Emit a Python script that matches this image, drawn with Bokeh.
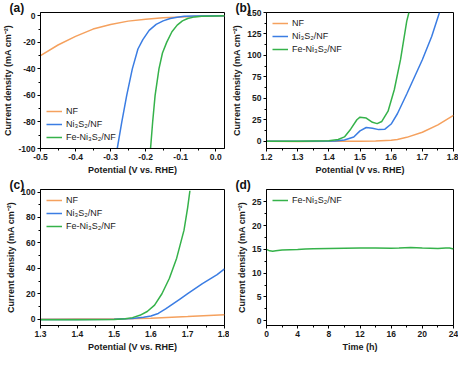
from bokeh.plotting import figure
from bokeh.layouts import gridplot
from bokeh.models import FixedTicker, Legend, LegendItem, Title, Range1d
from bokeh.embed import file_html
from bokeh.resources import INLINE

# ---------------- data ----------------
# (a) HER LSV
A_NF_X = [-0.5, -0.45, -0.4, -0.35, -0.3, -0.25, -0.2, -0.15, -0.1, -0.05, 0.0, 0.025]
A_NF_Y = [-30, -22, -15.5, -10, -6.5, -4, -2.5, -1.5, -0.8, -0.4, -0.2, -0.1]
A_NI_X = [-0.281, -0.268, -0.254, -0.238, -0.222, -0.208, -0.19, -0.17, -0.15, -0.13, -0.11, -0.09, -0.06, 0.025]
A_NI_Y = [-100, -80, -60, -40, -25, -18, -11, -6.5, -3.8, -2, -1, -0.4, -0.1, 0]
A_FE_X = [-0.186, -0.18, -0.173, -0.162, -0.152, -0.14, -0.125, -0.11, -0.095, -0.08, -0.06, -0.04, 0.0, 0.025]
A_FE_Y = [-100, -80, -60, -40, -28, -20, -12, -7, -3.8, -2, -0.8, -0.3, -0.05, 0]
A_XTICKS = [-0.5, -0.4, -0.3, -0.2, -0.1, 0.0]
A_YTICKS = [-100, -80, -60, -40, -20, 0]

# (b) OER LSV
B_NF_X = [1.2, 1.3, 1.4, 1.5, 1.55, 1.6, 1.62, 1.65, 1.7, 1.75, 1.8]
B_NF_Y = [0, -0.2, -0.1, 0, 0.3, 1.2, 2, 4.5, 10.5, 19, 30]
B_NI_X = [1.2, 1.3, 1.42, 1.45, 1.48, 1.50, 1.52, 1.54, 1.56, 1.58, 1.60, 1.62, 1.65, 1.70, 1.73, 1.755]
B_NI_Y = [0, 0, 0.3, 1.5, 5, 12, 16, 15, 13.5, 14, 20, 32, 55, 95, 122, 150]
B_FE_X = [1.2, 1.3, 1.40, 1.43, 1.45, 1.47, 1.49, 1.50, 1.52, 1.54, 1.555, 1.57, 1.59, 1.61, 1.63, 1.65, 1.657]
B_FE_Y = [0, 0, 0.5, 2, 5, 14, 25, 28, 27, 22, 20.5, 23, 35, 60, 95, 140, 150]
B_XTICKS = [1.2, 1.3, 1.4, 1.5, 1.6, 1.7, 1.8]
B_YTICKS = [0, 25, 50, 75, 100, 125, 150]

# (c) OER LSV
C_NF_X = [1.3, 1.4, 1.5, 1.6, 1.7, 1.8]
C_NF_Y = [0, 0.1, 0.2, 0.8, 2, 3.5]
C_NI_X = [1.3, 1.4, 1.5, 1.55, 1.58, 1.6, 1.62, 1.64, 1.66, 1.68, 1.70, 1.72, 1.74, 1.76, 1.78, 1.80]
C_NI_Y = [-0.3, -0.3, 0, 0.5, 1.5, 2.5, 4.5, 8, 12, 16, 20, 24, 28, 31.5, 35, 39.5]
C_FE_X = [1.3, 1.4, 1.5, 1.53, 1.55, 1.57, 1.59, 1.61, 1.63, 1.65, 1.67, 1.69, 1.70, 1.706]
C_FE_Y = [-0.5, -0.5, -0.3, 0.3, 1.2, 3, 6, 11, 20, 32, 48, 70, 88, 101]
C_XTICKS = [1.3, 1.4, 1.5, 1.6, 1.7, 1.8]
C_YTICKS = [0, 20, 40, 60, 80, 100]

# (d) stability
D_T = [0, 0.4, 0.8, 1.2, 2, 3, 4, 5, 6, 8, 10, 12, 14, 16, 17, 18.5, 20, 22, 23, 23.5, 24]
D_J = [15.0, 14.7, 14.6, 14.7, 14.9, 14.95, 15.0, 15.1, 15.15, 15.2, 15.25, 15.3, 15.3, 15.25, 15.3, 15.4, 15.3, 15.2, 15.3, 15.3, 15.1]
D_XTICKS = [0, 4, 8, 12, 16, 20, 24]
D_YTICKS = [0, 5, 10, 15, 20, 25]

NAMES = ["NF", "Ni\u2083S\u2082/NF", "Fe-Ni\u2083S\u2082/NF"]
C_OR, C_BL, C_GR = "#F5A15E", "#3B7DE3", "#35B24A"

FONT = "Liberation Sans"
YLAB = "Current density (mA cm\u207B\u00B2)"
XLAB = "Potential (V vs. RHE)"


def fmt(ticks, dec):
    return {t: (f"{t:.{dec}f}") for t in ticks}


def minors(ticks, n_minor=1):
    out = []
    for a, b in zip(ticks[:-1], ticks[1:]):
        for k in range(1, n_minor + 1):
            out.append(a + (b - a) * k / (n_minor + 1))
    return out


def make(xr, yr, xt, yt, xdec, ydec, xlabel, tag, width, height, bl, br, bt, bb):
    p = figure(width=width, height=height, x_range=Range1d(*xr), y_range=Range1d(*yr),
               output_backend="svg", toolbar_location=None,
               min_border_left=bl, min_border_right=br, min_border_top=bt, min_border_bottom=bb)
    p.xgrid.visible = False
    p.ygrid.visible = False
    p.outline_line_color = "black"
    p.outline_line_width = 1
    p.background_fill_color = "white"
    p.border_fill_color = "white"
    for ax, ticks, dec in ((p.xaxis[0], xt, xdec), (p.yaxis[0], yt, ydec)):
        ax.ticker = FixedTicker(ticks=ticks, minor_ticks=minors(ticks))
        ax.major_label_overrides = fmt(ticks, dec)
        ax.major_tick_in = 0
        ax.major_tick_out = 3
        ax.minor_tick_in = 0
        ax.minor_tick_out = 2
        ax.axis_line_color = "black"
        ax.major_tick_line_color = "black"
        ax.minor_tick_line_color = "black"
        ax.major_label_text_font = FONT
        ax.major_label_text_font_style = "bold"
        ax.major_label_text_font_size = "8.5px"
        ax.major_label_text_color = "#1a1a1a"
        ax.major_label_standoff = 2
        ax.axis_label_text_font = FONT
        ax.axis_label_text_font_style = "bold"
        ax.axis_label_text_font_size = "9px"
        ax.axis_label_text_color = "#1a1a1a"
        ax.axis_label_standoff = 2
    p.xaxis.axis_label = xlabel
    p.yaxis.axis_label = YLAB
    p.title = Title(text=tag, align="left", offset=-31, standoff=-4,
                    text_font=FONT, text_font_style="bold", text_font_size="12px",
                    text_color="#111111", text_line_height=0.9)
    return p


def add_legend(p, items, loc):
    leg = Legend(items=items, location=loc, background_fill_alpha=0, border_line_alpha=0,
                 label_text_font=FONT, label_text_font_size="9px", label_text_color="#222222",
                 glyph_width=16, glyph_height=10, label_height=10, spacing=3, padding=2,
                 margin=4, label_standoff=4)
    p.add_layout(leg)


W, H = 229, 177

pa = make((-0.5, 0.025), (-100, 2.5), A_XTICKS, A_YTICKS, 1, 0, XLAB, "(a)", W, H, 30, 5, 0, 24)
ra = pa.line(A_NF_X, A_NF_Y, line_color=C_OR, line_width=1.5)
rb = pa.line(A_NI_X, A_NI_Y, line_color=C_BL, line_width=1.5)
rc = pa.line(A_FE_X, A_FE_Y, line_color=C_GR, line_width=1.5)
add_legend(pa, [LegendItem(label=NAMES[0], renderers=[ra]), LegendItem(label=NAMES[1], renderers=[rb]),
                LegendItem(label=NAMES[2], renderers=[rc])], "bottom_left")

pb = make((1.2, 1.8), (-8.5, 150), B_XTICKS, B_YTICKS, 1, 0, XLAB, "(b)", W, H, 36, 5, 0, 24)
ra = pb.line(B_NF_X, B_NF_Y, line_color=C_OR, line_width=1.5)
rb = pb.line(B_NI_X, B_NI_Y, line_color=C_BL, line_width=1.5)
rc = pb.line(B_FE_X, B_FE_Y, line_color=C_GR, line_width=1.5)
add_legend(pb, [LegendItem(label=NAMES[0], renderers=[ra]), LegendItem(label=NAMES[1], renderers=[rb]),
                LegendItem(label=NAMES[2], renderers=[rc])], "top_left")

pc = make((1.3, 1.8), (-5, 102), C_XTICKS, C_YTICKS, 1, 0, XLAB, "(c)", W, H, 30, 5, 0, 24)
ra = pc.line(C_NF_X, C_NF_Y, line_color=C_OR, line_width=1.5)
rb = pc.line(C_NI_X, C_NI_Y, line_color=C_BL, line_width=1.5)
rc = pc.line(C_FE_X, C_FE_Y, line_color=C_GR, line_width=1.5)
add_legend(pc, [LegendItem(label=NAMES[0], renderers=[ra]), LegendItem(label=NAMES[1], renderers=[rb]),
                LegendItem(label=NAMES[2], renderers=[rc])], "top_left")

pd_ = make((0, 24), (-1, 27.6), D_XTICKS, D_YTICKS, 0, 0, "Time (h)", "(d)", W, H, 36, 5, 0, 24)
rd = pd_.line(D_T, D_J, line_color=C_GR, line_width=1.5)
add_legend(pd_, [LegendItem(label=NAMES[2], renderers=[rd])], "top_left")

grid = gridplot([[pa, pb], [pc, pd_]], toolbar_location=None)

with open("out.html", "w") as f:
    f.write(file_html(grid, INLINE))
